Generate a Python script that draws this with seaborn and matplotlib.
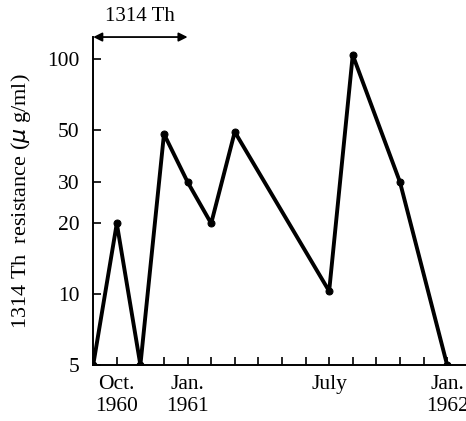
import matplotlib
matplotlib.use("Agg")
import matplotlib.pyplot as plt
from matplotlib.ticker import FixedLocator, NullLocator, FixedFormatter
import seaborn as sns

# months counted from Sept 1960 (= 0)
months = [0, 1, 2, 3, 4, 5, 6, 10, 11, 13, 15]
resistance = [5, 20, 5, 48, 30, 20, 49, 10.3, 104, 30, 5]

yticks = [5, 10, 20, 30, 50, 100]
xlabel_pos = [1, 4, 10, 15]
xlabel_txt = ["Oct.\n1960", "Jan.\n1961", "July", "Jan.\n1962"]

sns.set_theme(style="ticks")
plt.rcParams['font.family'] = ['Liberation Serif', 'DejaVu Serif']

fig = plt.figure(figsize=(4.66, 4.21), dpi=100)
ax = fig.add_axes([0.2, 0.133, 0.8, 0.779])

sns.lineplot(x=months, y=resistance, ax=ax, color="black", lw=2.8,
             marker="o", markersize=5, markeredgecolor="black")

ax.set_yscale("log")
ax.set_ylim(5, 124)
ax.set_xlim(0, 15.8)

ax.yaxis.set_major_locator(FixedLocator(yticks))
ax.yaxis.set_major_formatter(FixedFormatter([str(t) for t in yticks]))
ax.yaxis.set_minor_locator(NullLocator())

ax.set_xticks(range(16))
labels = [""] * 16
for p, t in zip(xlabel_pos, xlabel_txt):
    labels[p] = t
ax.set_xticklabels(labels)

ax.tick_params(axis="both", which="major", direction="in", length=6, width=1.2,
               colors="black", labelsize=15.5, pad=7, bottom=True, left=True)
ax.tick_params(axis="y", pad=10)

for s in ["top", "right"]:
    ax.spines[s].set_visible(False)
for s in ["left", "bottom"]:
    ax.spines[s].set_color("black")
    ax.spines[s].set_linewidth(1.4)

ax.set_ylabel("1314 Th  resistance ($\\mu$ g/ml)", fontsize=16, color="black", labelpad=10)
ax.set_xlabel("")

ax.annotate("", xy=(0, 1), xycoords=("data", "axes fraction"),
            xytext=(4, 1), textcoords=("data", "axes fraction"),
            arrowprops=dict(arrowstyle="<|-|>", color="black", lw=1.3,
                            shrinkA=0, shrinkB=0, mutation_scale=13),
            annotation_clip=False)
ax.text(2, 1.035, "1314 Th", transform=ax.get_xaxis_transform(),
        ha="center", va="bottom", fontsize=15, color="black")

fig.savefig("out.png", dpi=100)
